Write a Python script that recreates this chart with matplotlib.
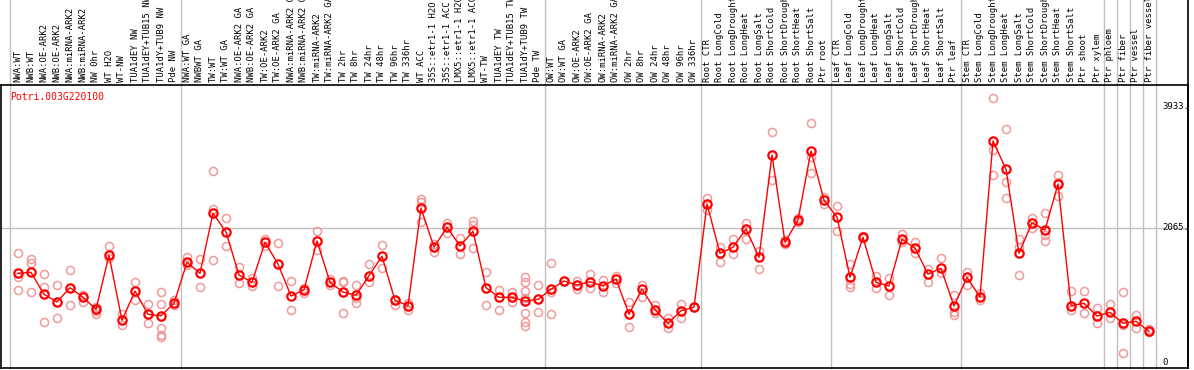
import numpy as np
import matplotlib.pyplot as plt
import matplotlib.transforms as mtransforms

gene = "Potri.003G220100"

labels = ["NWA:WT", "NWB:WT", "NWA:OE-ARK2", "NWB:OE-ARK2", "NWA:miRNA-ARK2", "NWB:miRNA-ARK2",
          "NW 0hr", "WT H2O", "WT-NW", "TUA1dEY NW", "TUA1dEY+TUB15 NW", "TUA1dY+TUB9 NW", "Pde NW",
          "NWA:WT GA", "NWBWT GA", "TW:WT", "TW:WT GA", "NWA:OE-ARK2 GA", "NWB:OE-ARK2 GA",
          "TW:OE-ARK2", "TW:OE-ARK2 GA", "NWA:miRNA-ARK2 GA", "NWB:miRNA-ARK2 GA", "TW:miRNA-ARK2",
          "TW:miRNA-ARK2 GA", "TW 2hr", "TW 8hr", "TW 24hr", "TW 48hr", "TW 96hr", "TW 336hr",
          "WT ACC", "35S::etr1-1 H2O", "35S::etr1-1 ACC", "LMX5::etr1-1 H2O", "LMX5::etr1-1 ACC",
          "WT-TW", "TUA1dEY TW", "TUA1dEY+TUB15 TW", "TUA1dY+TUB9 TW", "Pde TW",
          "OW:WT", "OW:WT GA", "OW:OE-ARK2", "OW:OE-ARK2 GA", "OW:miRNA-ARK2", "OW:miRNA-ARK2 GA",
          "OW 2hr", "OW 8hr", "OW 24hr", "OW 48hr", "OW 96hr", "OW 336hr",
          "Root CTR", "Root LongCold", "Root LongDrought", "Root LongHeat", "Root LongSalt",
          "Root ShortCold", "Root ShortDrought", "Root ShortHeat", "Root ShortSalt", "Ptr root",
          "Leaf CTR", "Leaf LongCold", "Leaf LongDrought", "Leaf LongHeat", "Leaf LongSalt",
          "Leaf ShortCold", "Leaf ShortDrought", "Leaf ShortHeat", "Leaf ShortSalt", "Ptr leaf",
          "Stem CTR", "Stem LongCold", "Stem LongDrought", "Stem LongHeat", "Stem LongSalt",
          "Stem ShortCold", "Stem ShortDrought", "Stem ShortHeat", "Stem ShortSalt", "Ptr shoot",
          "Ptr xylem", "Ptr phloem", "Ptr fiber", "Ptr vessel", "Ptr fiber vessel"]

means = [1367, 1382, 1043, 925, 1145, 997, 812, 1644, 643, 1094, 735, 713, 905,
         1536, 1367, 2291, 2003, 1341, 1228, 1845, 1510, 1017, 1114, 1865, 1228,
         1079, 1028, 1330, 1629, 951, 868, 2369, 1772, 2076, 1788, 2014,
         1145, 997, 997, 940, 966,
         1120, 1248, 1187, 1237, 1171, 1279, 735, 1125, 806, 596, 790, 843,
         2435, 1675, 1768, 2050, 1613, 3190, 1845, 2188, 3252, 2492,
         2234, 1305, 1922, 1228, 1171, 1891, 1752, 1356, 1444, 863,
         1305, 1002, 3406, 2970, 1675, 2147, 2034, 2743, 868, 905,
         709, 766, 596, 627, 473]

reps = [[1675, 1305, 1110], [1587, 1530, 1074], [1351, 1156, 612], [1187, 925, 678],
        [1418, 1140, 878], [1032, 929], [852, 786, 744], [1783, 1598], [735, 570],
        [1233, 955], [894, 601], [1074, 894, 524, 416, 381], [955, 878],
        [1613, 1495], [1587, 1156], [2939, 2358, 1572], [2214, 1783], [1464, 1213],
        [1290, 1176], [1895, 1792], [1834, 1171], [1248, 801], [1145, 1059],
        [2019, 1726], [1279, 1187], [1248, 1237, 750], [1187, 982, 905], [1506, 1228],
        [1803, 1453], [955, 878], [905, 801], [2512, 2470, 2162], [1814, 1700],
        [2137, 1983], [1906, 1660], [2173, 2111, 1752], [1382, 878], [1110, 801],
        [1074, 920], [1314, 1237, 1094, 991, 750, 621, 559], [1187, 766],
        [1521, 1074, 735], [1248, 1250], [1248, 1120], [1351, 1136], [1264, 1074],
        [1325, 1213], [920, 544], [1187, 1006], [878, 750], [673, 519], [894, 683],
        [852, 843], [2523, 2342], [1777, 1536], [1895, 1660], [2147, 1895],
        [1715, 1433], [3540, 2805], [1880, 1814], [2214, 2160], [3678, 3164, 2908],
        [2543, 2430], [2404, 2023], [1510, 1197, 1160], [1946, 1906], [1325, 1136],
        [1290, 1032], [1968, 1845], [1854, 1684], [1433, 1237], [1598, 1367],
        [1032, 775, 724], [1382, 1187], [1059, 955], [4064, 3267, 2882],
        [3586, 2778, 2523], [1895, 1777, 1341], [2224, 2070], [2291, 1957, 1869],
        [2882, 2778, 2558], [1094, 801], [1094, 750], [828, 606], [894, 683],
        [1074, 570, 134], [724, 519], [509, 458]]

# group separators (positions between categories)
seps = [-0.6, 12.5, 40.5, 52.5, 62.5, 72.5, 83.5, 84.5, 85.5, 86.5, 87.5]
yticks = [0, 2065, 3933]
ytick_labels = ["0", "2065.", "3933."]

W, H = 1194, 370
fig = plt.figure(figsize=(W / 100, H / 100), dpi=100)
ax = fig.add_axes([1 / W, 2 / H, 1187 / W, 283 / H])

x = np.arange(len(labels))
ax.set_xlim((1 - 18) / 13, (1188 - 18) / 13)
ax.set_ylim(-92, 4268)

mono = "DejaVu Sans Mono"
ext = 1 + 85 / 283
for s in seps:
    ax.axvline(s, ymin=0, ymax=ext, color="#c0c0c0", lw=1, clip_on=False, zorder=1)
ax.axhline(2065, color="#c0c0c0", lw=1, zorder=1)

for i, r in enumerate(reps):
    ax.plot([i] * len(r), r, "o", ms=5.8, mfc="none", mec="#f09a9a", mew=1.1, zorder=2)
ax.plot(x, means, "-", color="red", lw=1, zorder=3)
ax.plot(x, means, "o", ms=6, mfc="none", mec="red", mew=1.6, zorder=4)

trans = mtransforms.blended_transform_factory(ax.transData, ax.transAxes)
for i, lab in enumerate(labels):
    ax.text(i, 1 + 3 / 283, lab, transform=trans, rotation=90, ha="center", va="bottom",
            fontsize=6.4, family=mono, color="black", clip_on=False)

rtrans = mtransforms.blended_transform_factory(ax.transAxes, ax.transData)
for v, t in zip(yticks, ytick_labels):
    ax.text((1162 - 1) / 1187, v, t, transform=rtrans, ha="left", va="center",
            fontsize=6.5, family=mono, color="black")

ax.text(9 / 1187, (368 - 97) / 283, gene, transform=ax.transAxes, ha="left", va="center",
        fontsize=7, family=mono, color="red")

ax.set_xticks([])
ax.set_yticks([])
for sp in ax.spines.values():
    sp.set_color("black")
    sp.set_linewidth(1.2)
ax.axvline(ax.get_xlim()[1], ymin=0, ymax=ext, color="black", lw=1.2, clip_on=False)

fig.savefig("out.png", dpi=100)
